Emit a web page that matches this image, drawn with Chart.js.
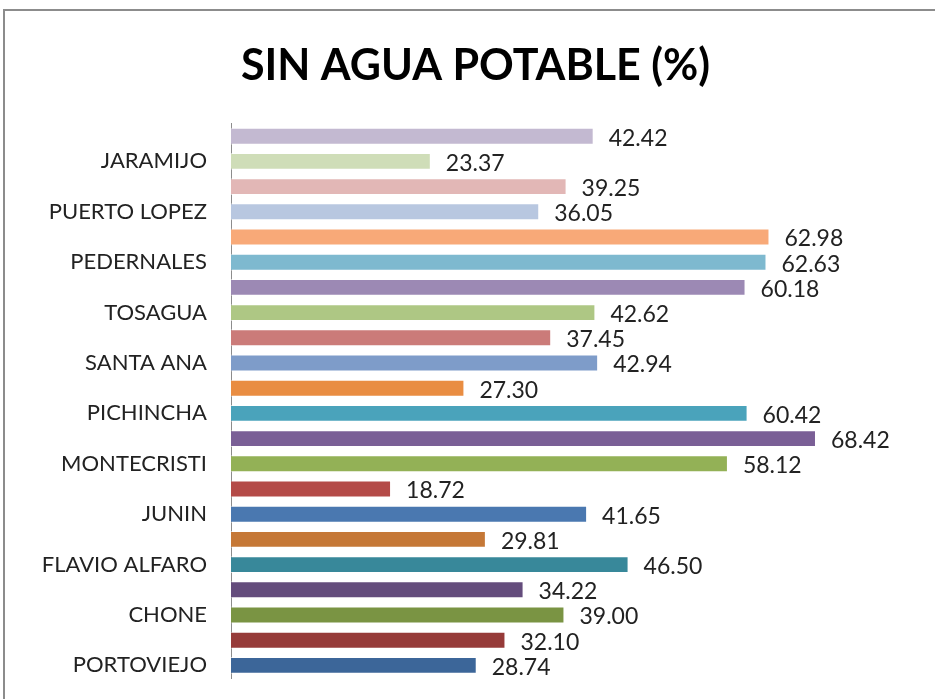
<!DOCTYPE html>
<html>
<head>
<meta charset="utf-8">
<script src="https://cdn.jsdelivr.net/npm/chart.js@4"></script>
<style>
  html, body { margin: 0; padding: 0; background: #fff; overflow: hidden; }
  #wrap { position: relative; width: 935px; height: 699px; }
  #frame {
    position: absolute; left: 3px; top: 9px; width: 940px; height: 700px;
    border-left: 2px solid #8c8c8c; border-top: 2px solid #8c8c8c;
    pointer-events: none;
  }
  canvas { display: block; }
</style>
</head>
<body>
<div id="wrap">
  <canvas id="chart" width="935" height="699"></canvas>
  <div id="frame"></div>
</div>
<script>
// categories top to bottom (Excel only labels every other bar)
const categories = ['', 'JARAMIJO', '', 'PUERTO LOPEZ', '', 'PEDERNALES', '', 'TOSAGUA',
  '', 'SANTA ANA', '', 'PICHINCHA', '', 'MONTECRISTI', '', 'JUNIN',
  '', 'FLAVIO ALFARO', '', 'CHONE', '', 'PORTOVIEJO'];

const values = [42.42, 23.37, 39.25, 36.05, 62.98, 62.63, 60.18, 42.62,
  37.45, 42.94, 27.30, 60.42, 68.42, 58.12, 18.72, 41.65,
  29.81, 46.50, 34.22, 39.00, 32.10, 28.74];

const barColors = ['#C3B9D1', '#CFDDB8', '#E2B7B6', '#B8C7E0', '#F8A978', '#7EB9CF', '#9C89B4', '#AEC784',
  '#CB7B79', '#7E9CC9', '#E98D42', '#4AA3BB', '#7A5F96', '#93B156', '#B44B48', '#4A78B0',
  '#C57837', '#38889A', '#644C7C', '#7A9443', '#963B39', '#3C6699'];

const FONT = 'Lato, "Open Sans", sans-serif';

// value labels at the end of each bar
const valueLabels = {
  id: 'valueLabels',
  afterDatasetsDraw(chart) {
    const ctx = chart.ctx;
    const meta = chart.getDatasetMeta(0);
    ctx.save();
    ctx.font = '23px ' + FONT;
    ctx.fillStyle = '#222';
    ctx.textAlign = 'left';
    ctx.textBaseline = 'middle';
    meta.data.forEach((bar, i) => {
      ctx.fillText(values[i].toFixed(2), bar.x + 15, bar.y + 2);
    });
    ctx.restore();
  }
};

new Chart(document.getElementById('chart'), {
  type: 'bar',
  data: {
    labels: categories,
    datasets: [{
      data: values,
      backgroundColor: barColors,
      borderColor: 'rgba(255,255,255,0.55)',
      borderWidth: 1,
      categoryPercentage: 1,
      barPercentage: 0.67
    }]
  },
  options: {
    indexAxis: 'y',
    responsive: false,
    animation: false,
    layout: { padding: { left: 36, right: 20, bottom: 21 } },
    plugins: {
      legend: { display: false },
      tooltip: { enabled: false },
      title: {
        display: true,
        text: 'SIN AGUA POTABLE (%)',
        color: '#000',
        font: { family: FONT, size: 43, weight: 'bold', lineHeight: 1.2 },
        padding: { top: 40, bottom: 32 }
      }
    },
    scales: {
      x: {
        display: false,
        min: 0,
        max: 80
      },
      y: {
        afterFit(scale) {
          scale.width = 195;
          scale.paddingTop = 0;
          scale.paddingBottom = 0;
        },
        grid: { display: false, drawTicks: false },
        border: { display: true, color: '#8c8c8c', width: 1 },
        ticks: {
          autoSkip: false,
          padding: 24,
          color: '#222',
          font: { family: FONT, size: 22 }
        }
      }
    }
  },
  plugins: [valueLabels]
});
</script>
</body>
</html>
